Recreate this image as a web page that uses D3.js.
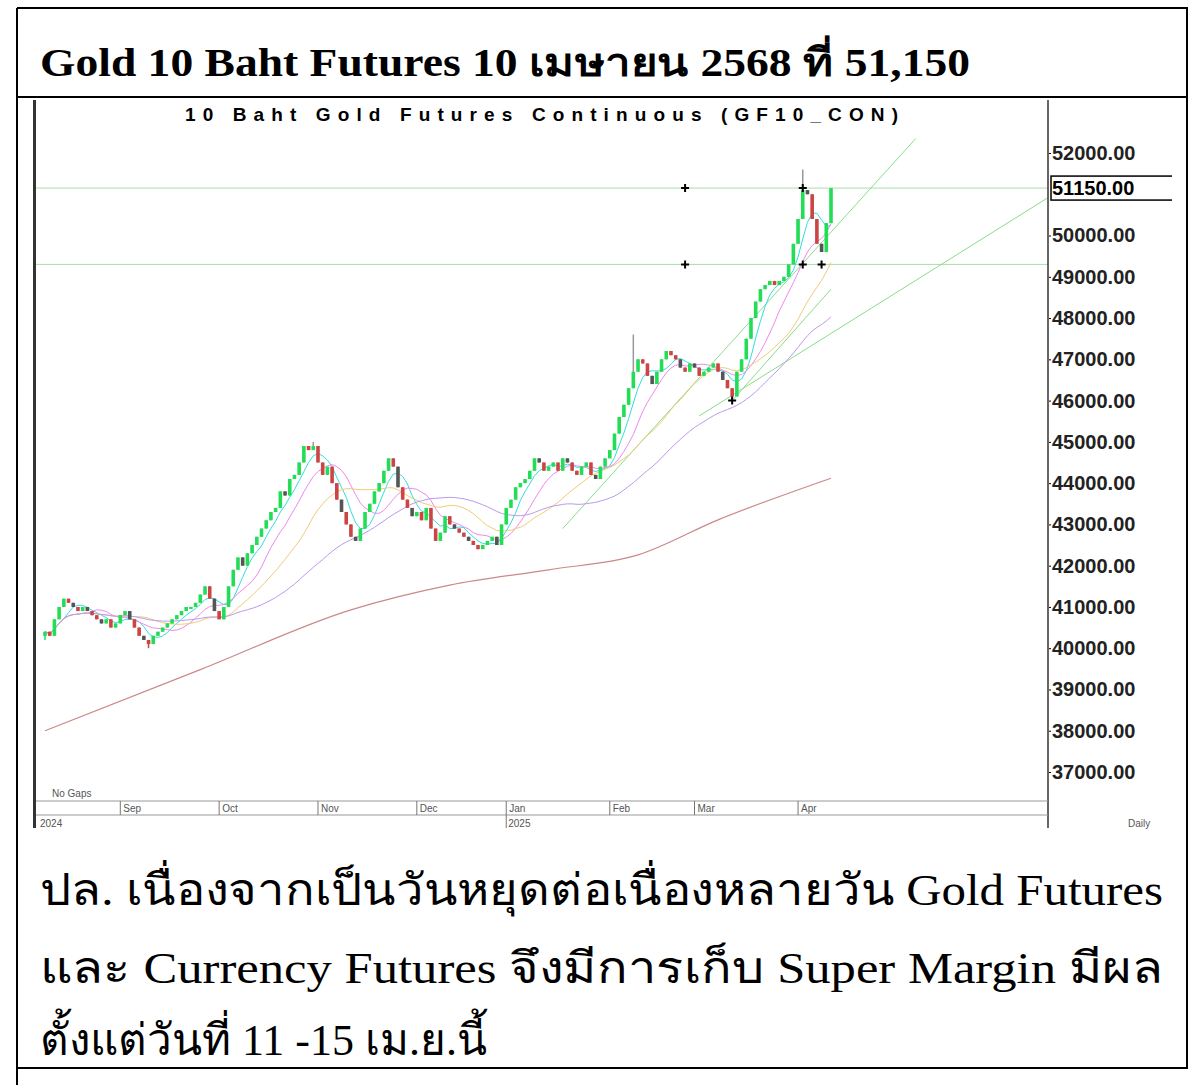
<!DOCTYPE html>
<html><head><meta charset="utf-8">
<script src="https://cdn.jsdelivr.net/npm/d3@7"></script>
<style>body{margin:0;background:#fff}</style></head>
<body><svg id="c" width="1200" height="1085"></svg>
<script>
const closes=[40400,40300,40700,41000,41200,41100,41000,40900,41000,40900,40800,40700,40600,40700,40500,40600,40800,
40900,40700,40500,40300,40200,40100,40300,40400,40500,40600,40700,40800,40900,41000,41000,41100,41300,
41500,41200,40900,40700,41000,
41500,41900,42200,42000,42300,42500,42700,42900,43100,43300,43400,43800,43700,44100,44200,44500,44900,
44800,44900,44500,44200,44400,44000,43600,
43300,43000,42700,42600,42900,43300,43500,
43800,44000,44300,44600,44400,43900,43600,
43400,43200,43300,43100,43400,42900,42600,42800,43200,43000,42900,42800,42700,
42600,42500,42400,42500,42600,42700,42500,43000,43400,43600,43900,
44000,44100,44300,44600,44500,44300,44400,44500,44300,44600,44500,44300,44200,44400,44500,44200,44100,44400,44600,44800,
45200,45600,45900,46300,46700,47000,46900,46600,
46400,46700,47000,47200,47100,47000,46800,46700,46900,46800,46600,46700,46800,46900,46700,46500,46300,
46100,
46700,47000,47500,48000,48400,48700,48800,48900,48800,48900,49000,49300,49800,50400,
51100,
51000,50400,49800,49600,50300,51150];
const wicks=[{i:57,h:45000},{i:125,h:47600},{i:146,l:46000},{i:161,h:51600},{i:0,l:40200},{i:22,l:40000}];
const ma200=[[0,38000],[33,39480],[65,40930],[86,41530],[107,41900],[126,42260],[143,43110],[167,44120]];
const trendLines=[[[110,42900],[185,52350]],[[139,45630],[213,50910]],[[146,46000],[167,48700]]];
const hLines=[51150,49300];
const markers=[[136,51150],[136,49300],[161,51150],[161,49300],[165,49300],[146,46000]];
const yTicks=[52000,51000,50000,49000,48000,47000,46000,45000,44000,43000,42000,41000,40000,39000,38000,37000];
const months=[["Sep",16],["Oct",37],["Nov",58],["Dec",79],["Jan",98],["Feb",120],["Mar",138],["Apr",160]];
const maDefs=[[5,"#33dddd"],[10,"#ee88ee"],[20,"#eecc77"],[40,"#bb99ee"]];

const svg=d3.select("#c");
const defs=svg.append("defs");
const x=d3.scaleLinear().domain([0,167]).range([45,831]);
const y=d3.scaleLinear().domain([37000,52000]).range([772,153]);
const chart=svg.append("g");
defs.append("clipPath").attr("id","pc").append("rect").attr("x",36).attr("y",100).attr("width",1012).attr("height",700);
defs.append("clipPath").attr("id","rc").append("rect").attr("x",1049).attr("y",100).attr("width",123).attr("height",700);
const plot=chart.append("g").attr("clip-path","url(#pc)");

const fr=svg.append("g").attr("stroke","#000").attr("stroke-width",2);
fr.append("line").attr("x1",17).attr("x2",1188).attr("y1",8).attr("y2",8);
fr.append("line").attr("x1",17).attr("x2",1188).attr("y1",97).attr("y2",97);
fr.append("line").attr("x1",17).attr("x2",1188).attr("y1",1068).attr("y2",1068);
fr.append("line").attr("x1",17).attr("x2",17).attr("y1",8).attr("y2",1085);
fr.append("line").attr("x1",1187).attr("x2",1187).attr("y1",8).attr("y2",1068);
svg.append("text").attr("x",40).attr("y",76).attr("font-family","Liberation Serif, DejaVu Serif, serif").attr("font-weight","bold").attr("font-size",39).attr("textLength",930).attr("lengthAdjust","spacingAndGlyphs").text("Gold 10 Baht Futures 10 เมษายน 2568 ที่ 51,150");

chart.append("rect").attr("x",33).attr("y",100).attr("width",3).attr("height",728).attr("fill","#333");
chart.append("line").attr("x1",1048).attr("x2",1048).attr("y1",100).attr("y2",828).attr("stroke","#333").attr("stroke-width",1.5);
chart.append("text").attr("x",185).attr("y",121).attr("font-family","Liberation Sans, Arial").attr("font-weight","bold").attr("font-size",19).attr("textLength",713).attr("lengthAdjust","spacing").text("10 Baht Gold Futures Continuous (GF10_CON)");

hLines.forEach(v=>plot.append("line").attr("x1",36).attr("x2",1048).attr("y1",y(v)).attr("y2",y(v)).attr("stroke","#aaddaa").attr("stroke-width",1));
plot.append("path").attr("d",d3.line().x(d=>x(d[0])).y(d=>y(d[1])).curve(d3.curveMonotoneX)(ma200)).attr("fill","none").attr("stroke","#cc8888").attr("stroke-width",1.2);
trendLines.forEach(t=>plot.append("line").attr("x1",x(t[0][0])).attr("y1",y(t[0][1])).attr("x2",x(t[1][0])).attr("y2",y(t[1][1])).attr("stroke","#88dd88").attr("stroke-width",1));
maDefs.forEach(([n,c])=>{
  const pts=closes.map((v,i)=>[i,d3.mean(closes.slice(Math.max(0,i-n+1),i+1))]);
  plot.append("path").attr("d",d3.line().x(d=>x(d[0])).y(d=>y(d[1]))(pts)).attr("fill","none").attr("stroke",c).attr("stroke-width",1);
});
closes.forEach((c,i)=>{
  const o=i?closes[i-1]:c-100;
  const w=wicks.find(d=>d.i===i)||{};
  const hi=w.h||Math.max(o,c), lo=w.l||Math.min(o,c);
  const up=c>=o, col=up?"#22dd55":(i%3?"#cc4444":"#555");
  plot.append("line").attr("x1",x(i)).attr("x2",x(i)).attr("y1",y(hi)).attr("y2",y(lo)).attr("stroke",w.h?"#999":col).attr("stroke-width",1.5);
  plot.append("rect").attr("x",x(i)-1.8).attr("width",3.6).attr("y",y(Math.max(o,c))).attr("height",Math.max(2,y(Math.min(o,c))-y(Math.max(o,c)))).attr("fill",col);
});
markers.forEach(([i,v])=>{
  plot.append("path").attr("transform",`translate(${x(i)},${y(v)})`).attr("d","M-4,0H4M0,-4V4").attr("stroke","#000").attr("stroke-width",2);
});
const yw=svg.append("g").attr("clip-path","url(#rc)");
const ya=yw.append("g").attr("transform","translate(1048,0)").call(d3.axisRight(y).tickValues(yTicks).tickSize(3).tickFormat(d3.format(".2f")));
ya.select(".domain").remove();
ya.selectAll("text").attr("font-family","Liberation Sans, Arial").attr("font-weight","bold").attr("font-size",20).attr("x",4).attr("fill","#222");
ya.selectAll(".tick").filter(d=>d===51000).remove();
yw.append("rect").attr("x",1051).attr("y",y(51150)-12).attr("width",130).attr("height",24).attr("fill","#fff").attr("stroke","#000").attr("stroke-width",1.5);
yw.append("text").attr("x",1052).attr("y",y(51150)+7).attr("font-family","Liberation Sans, Arial").attr("font-weight","bold").attr("font-size",20).text("51150.00");
const mb=chart.append("g").attr("font-family","Liberation Sans, Arial").attr("font-size",10).attr("fill","#555");
mb.append("line").attr("x1",36).attr("x2",1048).attr("y1",801).attr("y2",801).attr("stroke","#999");
mb.append("line").attr("x1",36).attr("x2",1048).attr("y1",815).attr("y2",815).attr("stroke","#999");
months.forEach(([m,i])=>{
  mb.append("line").attr("x1",x(i)).attr("x2",x(i)).attr("y1",801).attr("y2",i===98?828:815).attr("stroke","#777");
  mb.append("text").attr("x",x(i)+3).attr("y",812).text(m);
});
mb.append("text").attr("x",52).attr("y",797).text("No Gaps");
mb.append("text").attr("x",40).attr("y",827).text("2024");
mb.append("text").attr("x",x(98)+2).attr("y",827).text("2025");
mb.append("text").attr("x",1128).attr("y",827).text("Daily");
const nf="Liberation Serif, DejaVu Serif, Noto Sans, serif";
const note=[["ปล. เนื่องจากเป็นวันหยุดต่อเนื่องหลายวัน Gold Futures",905,1123],["และ Currency Futures จึงมีการเก็บ Super Margin มีผล",983,1123],["ตั้งแต่วันที่ 11 -15 เม.ย.นี้",1055,null]];
note.forEach(([t,yy,L])=>{const tx=svg.append("text").attr("x",40).attr("y",yy).attr("font-family",nf).attr("font-size",44).text(t); if(L) tx.attr("textLength",L).attr("lengthAdjust","spacingAndGlyphs");});
</script></body></html>
